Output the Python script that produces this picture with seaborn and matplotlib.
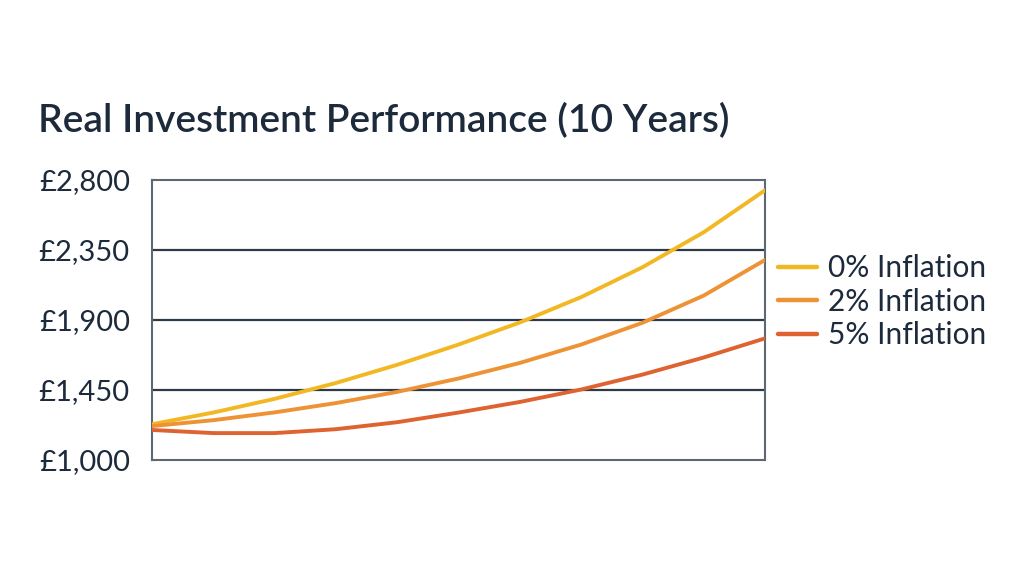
import matplotlib
matplotlib.use("Agg")
import matplotlib.pyplot as plt
import seaborn as sns
import pandas as pd

years = list(range(11))
infl_0 = [1230, 1305, 1393, 1495, 1612, 1742, 1884, 2047, 2239, 2464, 2734]
infl_2 = [1218, 1256, 1306, 1366, 1438, 1524, 1624, 1742, 1882, 2057, 2286]
infl_5 = [1193, 1173, 1173, 1198, 1243, 1305, 1373, 1453, 1549, 1659, 1782]
series_names = ["0% Inflation", "2% Inflation", "5% Inflation"]
y_ticks = [1000, 1450, 1900, 2350, 2800]
y_tick_labels = ["£1,000", "£1,450", "£1,900", "£2,350", "£2,800"]
title = "Real Investment Performance (10 Years)"

df = pd.DataFrame({
    "year": years * 3,
    "value": infl_0 + infl_2 + infl_5,
    "series": [series_names[0]] * 11 + [series_names[1]] * 11 + [series_names[2]] * 11,
})

sns.set_theme(style="white")
plt.rcParams["font.family"] = ["Lato", "DejaVu Sans"]
text_color = "#1c2a3c"
palette = {series_names[0]: "#f2b824", series_names[1]: "#ee9236", series_names[2]: "#df6330"}

fig = plt.figure(figsize=(10.24, 5.76), dpi=100)
ax = fig.add_axes([152 / 1024, 1 - 460 / 576, (765 - 152) / 1024, (460 - 180) / 576])

for yv in y_ticks[1:-1]:
    ax.axhline(yv, color="#2e3a48", lw=1.6, zorder=1)

sns.lineplot(data=df, x="year", y="value", hue="series", palette=palette,
             linewidth=2.8, ax=ax, legend=True, zorder=3)

ax.set_xlim(0, 10)
ax.set_ylim(1000, 2800)
ax.set_yticks(y_ticks)
ax.set_yticklabels(y_tick_labels)
ax.set_xticks([])
ax.set_xlabel("")
ax.set_ylabel("")
ax.tick_params(axis="y", length=0, pad=16, labelsize=21, labelcolor=text_color)
for s in ax.spines.values():
    s.set_color("#5e6875")
    s.set_linewidth(1.5)

leg = ax.legend(loc="center left", bbox_to_anchor=(1.0, 0.565), frameon=False,
                fontsize=21.5, handlelength=1.3, handletextpad=0.35,
                labelspacing=0.19, borderaxespad=0.05, borderpad=0.4)
for t in leg.get_texts():
    t.set_color(text_color)
for h in leg.get_lines():
    h.set_linewidth(3.2)

fig.text(38 / 1024, 1 - 132 / 576, title, fontsize=28, color=text_color,
         fontweight="semibold", ha="left", va="baseline")

fig.savefig("out.png", dpi=100, facecolor="white")
